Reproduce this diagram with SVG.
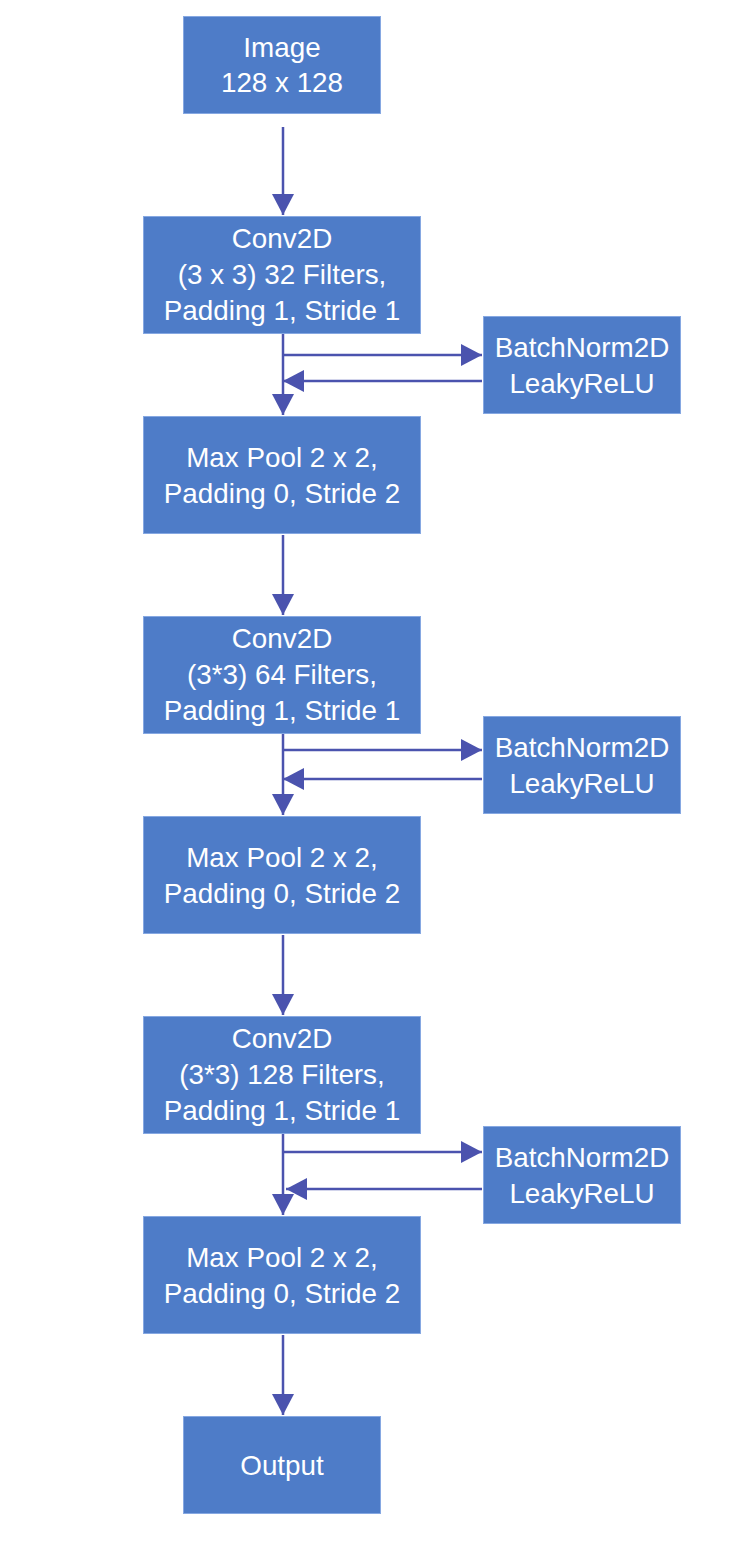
<svg xmlns="http://www.w3.org/2000/svg" width="735" height="1557" viewBox="0 0 735 1557">
<style>
.box{fill:#4e7cc8;stroke:#86a8e2;stroke-width:1}
.t{font-family:"Liberation Sans",Arial,Helvetica,sans-serif;font-size:27.8px;fill:#ffffff;text-anchor:middle}
.c{fill:none;stroke:#4b53ae;stroke-width:2.5}
</style>
<defs>
<marker id="ah" markerUnits="userSpaceOnUse" markerWidth="23" markerHeight="23" refX="21" refY="11" orient="auto">
<path d="M0,0 L21,11 L0,22 z" fill="#4b53ae"/>
</marker>
</defs>
<rect width="735" height="1557" fill="#ffffff"/>
<g id="connectors">
<path class="c" d="M283,127 L283,215" marker-end="url(#ah)"/>
<path class="c" d="M283,355 L482,355" marker-end="url(#ah)"/>
<path class="c" d="M482,381 L283,381" marker-end="url(#ah)"/>
<path class="c" d="M283,334 L283,415" marker-end="url(#ah)"/>
<path class="c" d="M283,535 L283,615" marker-end="url(#ah)"/>
<path class="c" d="M283,750 L482,750" marker-end="url(#ah)"/>
<path class="c" d="M482,779 L283,779" marker-end="url(#ah)"/>
<path class="c" d="M283,734 L283,815" marker-end="url(#ah)"/>
<path class="c" d="M283,935 L283,1015" marker-end="url(#ah)"/>
<path class="c" d="M284,1152 L482,1152" marker-end="url(#ah)"/>
<path class="c" d="M482,1189 L286,1189" marker-end="url(#ah)"/>
<path class="c" d="M283,1134 L283,1215" marker-end="url(#ah)"/>
<path class="c" d="M283,1335 L283,1415" marker-end="url(#ah)"/>
</g>
<g id="image">
<rect class="box" x="183.5" y="16.5" width="197" height="97"/>
<text class="t" x="282" y="57">Image</text>
<text class="t" x="282" y="92">128 x 128</text>
</g>
<g id="conv1">
<rect class="box" x="143.5" y="216.5" width="277" height="117"/>
<text class="t" x="282" y="248">Conv2D</text>
<text class="t" x="282" y="284">(3 x 3) 32 Filters,</text>
<text class="t" x="282" y="320">Padding 1, Stride 1</text>
</g>
<g id="bn1">
<rect class="box" x="483.5" y="316.5" width="197" height="97"/>
<text class="t" x="582" y="357">BatchNorm2D</text>
<text class="t" x="582" y="393">LeakyReLU</text>
</g>
<g id="pool1">
<rect class="box" x="143.5" y="416.5" width="277" height="117"/>
<text class="t" x="282" y="467">Max Pool 2 x 2,</text>
<text class="t" x="282" y="503">Padding 0, Stride 2</text>
</g>
<g id="conv2">
<rect class="box" x="143.5" y="616.5" width="277" height="117"/>
<text class="t" x="282" y="648">Conv2D</text>
<text class="t" x="282" y="684">(3*3) 64 Filters,</text>
<text class="t" x="282" y="720">Padding 1, Stride 1</text>
</g>
<g id="bn2">
<rect class="box" x="483.5" y="716.5" width="197" height="97"/>
<text class="t" x="582" y="757">BatchNorm2D</text>
<text class="t" x="582" y="793">LeakyReLU</text>
</g>
<g id="pool2">
<rect class="box" x="143.5" y="816.5" width="277" height="117"/>
<text class="t" x="282" y="867">Max Pool 2 x 2,</text>
<text class="t" x="282" y="903">Padding 0, Stride 2</text>
</g>
<g id="conv3">
<rect class="box" x="143.5" y="1016.5" width="277" height="117"/>
<text class="t" x="282" y="1048">Conv2D</text>
<text class="t" x="282" y="1084">(3*3) 128 Filters,</text>
<text class="t" x="282" y="1120">Padding 1, Stride 1</text>
</g>
<g id="bn3">
<rect class="box" x="483.5" y="1126.5" width="197" height="97"/>
<text class="t" x="582" y="1167">BatchNorm2D</text>
<text class="t" x="582" y="1203">LeakyReLU</text>
</g>
<g id="pool3">
<rect class="box" x="143.5" y="1216.5" width="277" height="117"/>
<text class="t" x="282" y="1267">Max Pool 2 x 2,</text>
<text class="t" x="282" y="1303">Padding 0, Stride 2</text>
</g>
<g id="output">
<rect class="box" x="183.5" y="1416.5" width="197" height="97"/>
<text class="t" x="282" y="1475">Output</text>
</g>
</svg>
